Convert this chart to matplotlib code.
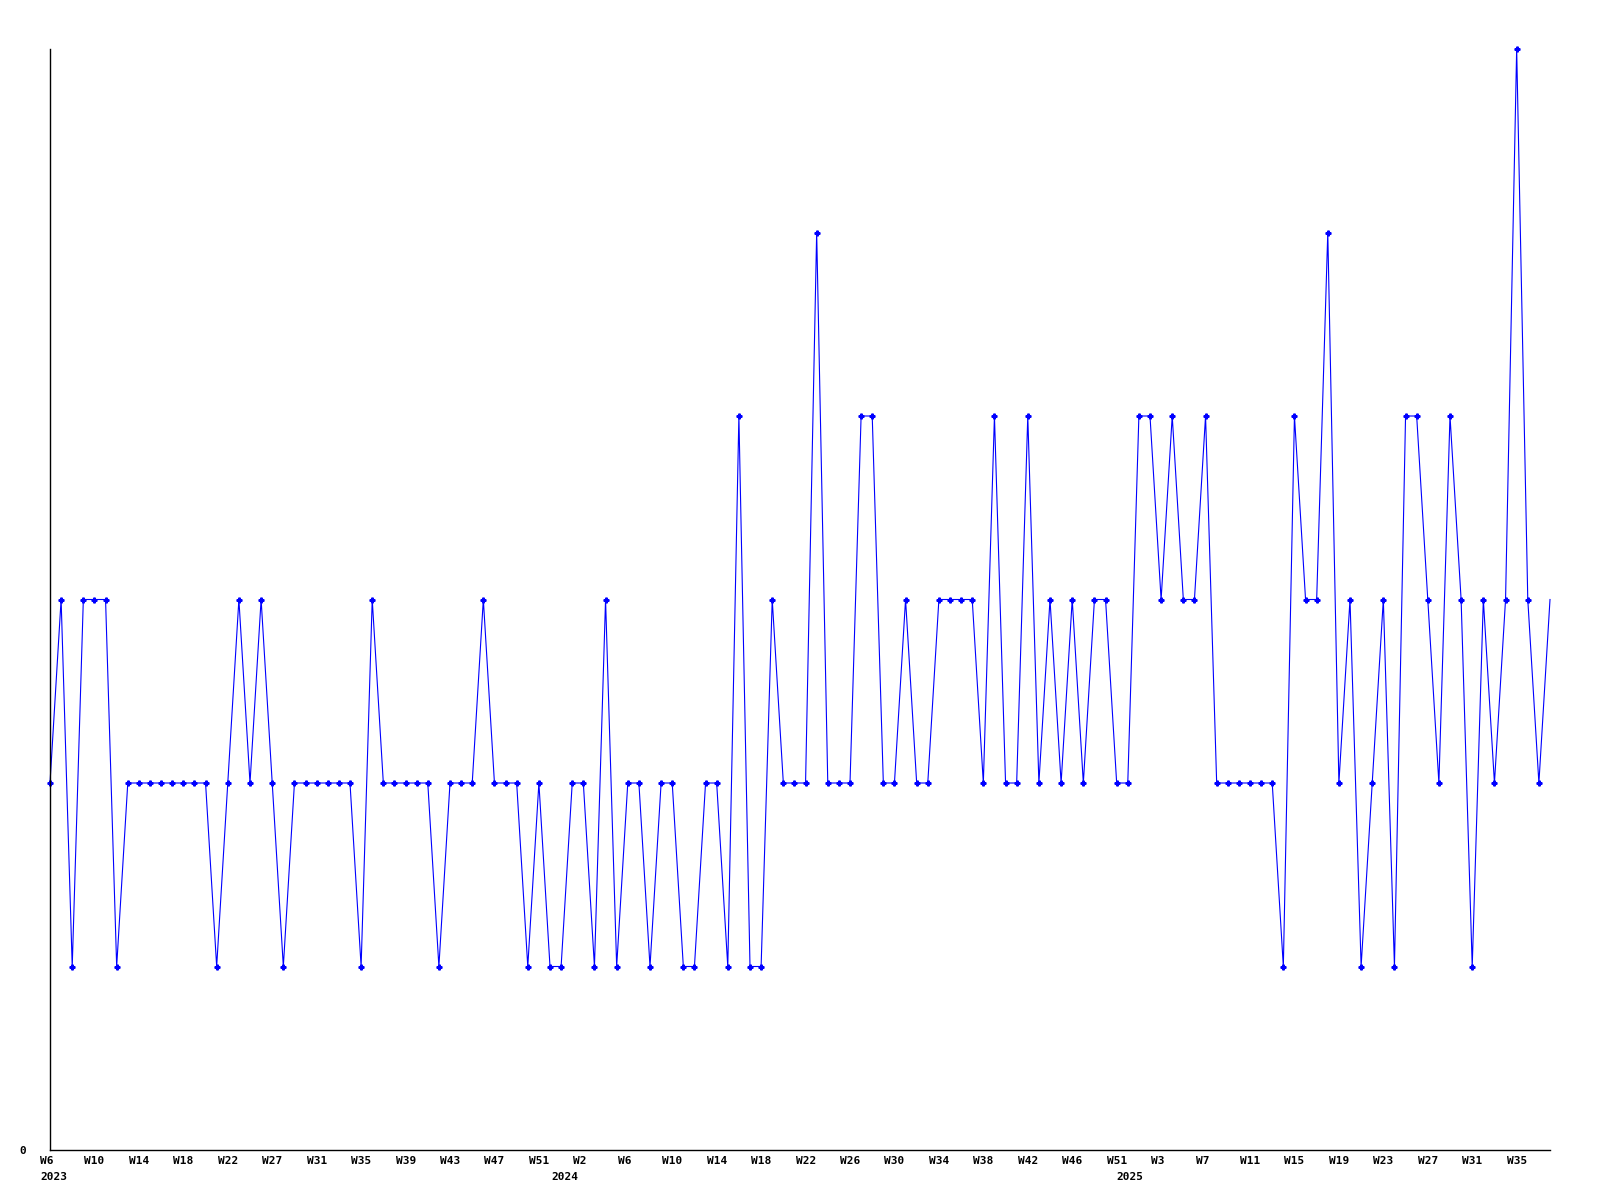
import numpy as np
import matplotlib
matplotlib.use("Agg")
import matplotlib.pyplot as plt
import matplotlib.transforms as mtransforms

# weekly values, 2023 W6 .. 2025 W37
values = [
    2, 3, 1, 3, 3, 3, 1, 2, 2, 2, 2, 2, 2, 2, 2, 1,
    2, 3, 2, 3, 2, 1, 2, 2, 2, 2, 2, 2, 1, 3, 2, 2,
    2, 2, 2, 1, 2, 2, 2, 3, 2, 2, 2, 1, 2, 1, 1, 2,
    2, 1, 3, 1, 2, 2, 1, 2, 2, 1, 1, 2, 2, 1, 4, 1,
    1, 3, 2, 2, 2, 5, 2, 2, 2, 4, 4, 2, 2, 3, 2, 2,
    3, 3, 3, 3, 2, 4, 2, 2, 4, 2, 3, 2, 3, 2, 3, 3,
    2, 2, 4, 4, 3, 4, 3, 3, 4, 2, 2, 2, 2, 2, 2, 1,
    4, 3, 3, 5, 2, 3, 1, 2, 3, 1, 4, 4, 3, 2, 4, 3,
    1, 3, 2, 3, 6, 3, 2, 3,
]

week_labels = [
    "W6", "W10", "W14", "W18", "W22", "W27", "W31", "W35", "W39", "W43",
    "W47", "W51", "W2", "W6", "W10", "W14", "W18", "W22", "W26", "W30",
    "W34", "W38", "W42", "W46", "W51", "W3", "W7", "W11", "W15", "W19",
    "W23", "W27", "W31", "W35",
]
year_labels = ["2023", "2024", "2025"]
year_x = [-0.9, 45.1, 96.0]

x = np.arange(len(values))

fig = plt.figure(figsize=(16, 12), dpi=100)
ax = fig.add_axes([50 / 1600, 50 / 1200, 1500 / 1600, 1101 / 1200])

# last point sits on the right edge, its marker is cut off in the original
ax.plot(x, values, color="#0000ff", lw=0.8, marker="P", ms=3.5,
        mec="#0000ff", mfc="#0000ff", markevery=slice(0, len(values) - 1),
        clip_on=False)

ax.set_xlim(0, len(values) - 1)
ax.set_ylim(0, 6)

for s in ["top", "right"]:
    ax.spines[s].set_visible(False)
for s in ["left", "bottom"]:
    ax.spines[s].set_color("black")
    ax.spines[s].set_linewidth(1.0)

font = dict(family="DejaVu Sans Mono", weight="bold", size=8)

ax.set_yticks([0])
ax.set_yticklabels(["0"], **font)
ax.tick_params(axis="y", length=0, pad=17)

ax.set_xticks(np.arange(0, len(week_labels) * 4, 4))
ax.set_xticklabels(week_labels, ha="left", **font)
ax.tick_params(axis="x", length=0, pad=4)
shift = mtransforms.ScaledTranslation(-10 / 100, 0, fig.dpi_scale_trans)
for lab in ax.get_xticklabels():
    lab.set_transform(lab.get_transform() + shift)

trans = mtransforms.blended_transform_factory(ax.transData, ax.transAxes)
for xp, yl in zip(year_x, year_labels):
    ax.text(xp, -0.0245, yl, transform=trans, ha="left", va="center", **font)

fig.savefig("out.png", dpi=100)
